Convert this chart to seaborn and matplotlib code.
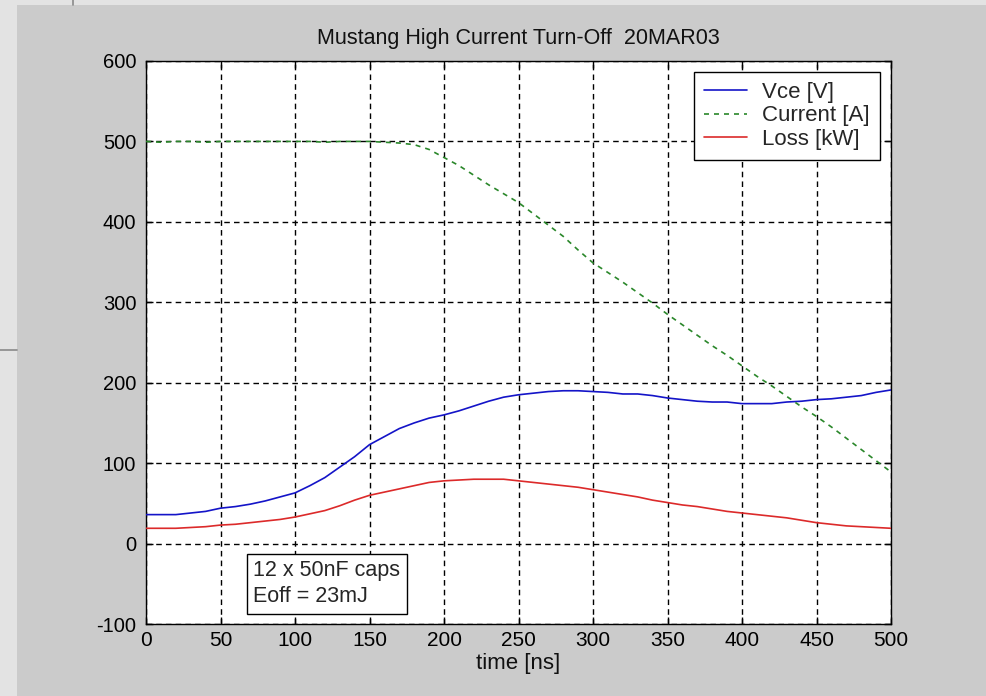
import matplotlib
matplotlib.use("Agg")
import matplotlib.pyplot as plt
import pandas as pd
import seaborn as sns
from matplotlib.patches import Rectangle
from matplotlib.lines import Line2D

# Sample times of the turn-off record (ns)
time_ns = [0, 10, 20, 30, 40, 50, 60, 70, 80, 90,
           100, 110, 120, 130, 140, 150, 160, 170, 180, 190,
           200, 210, 220, 230, 240, 250, 260, 270, 280, 290,
           300, 310, 320, 330, 340, 350, 360, 370, 380, 390,
           400, 410, 420, 430, 440, 450, 460, 470, 480, 490, 500]

# Collector-emitter voltage (V)
vce_v = [36, 36, 36, 38, 40, 44, 46, 49, 53, 58,
         63, 72, 82, 95, 108, 123, 133, 143, 150, 156,
         160, 165, 171, 177, 182, 185, 187, 189, 190, 190,
         189, 188, 186, 186, 184, 181, 179, 177, 176, 176,
         174, 174, 174, 176, 177, 179, 180, 182, 184, 188, 191]

# Collector current (A)
current_a = [500, 499, 500, 500, 499, 500, 500, 500, 500, 500,
             500, 500, 499, 500, 500, 500, 499, 498, 496, 490,
             480, 470, 458, 446, 435, 424, 410, 396, 382, 365,
             349, 337, 325, 312, 299, 285, 272, 259, 246, 234,
             221, 208, 196, 183, 170, 158, 145, 131, 117, 103, 89]

# Instantaneous switching loss (kW)
loss_kw = [19, 19, 19, 20, 21, 23, 24, 26, 28, 30,
           33, 37, 41, 47, 54, 60, 64, 68, 72, 76,
           78, 79, 80, 80, 80, 78, 76, 74, 72, 70,
           67, 64, 61, 58, 54, 51, 48, 46, 43, 40,
           38, 36, 34, 32, 29, 26, 24, 22, 21, 20, 19]

series_labels = ["Vce [V]", "Current [A]", "Loss [kW]"]
series_colors = ["#1414c8", "#2a872a", "#dc2a2a"]
x_ticks = [0, 50, 100, 150, 200, 250, 300, 350, 400, 450, 500]
y_ticks = [-100, 0, 100, 200, 300, 400, 500, 600]

sns.set_theme(style="white")
plt.rcParams["font.family"] = ["Liberation Sans", "DejaVu Sans"]
plt.rcParams["axes.unicode_minus"] = False

W, H = 986, 696
fig = plt.figure(figsize=(W / 100, H / 100), dpi=100)
fig.patch.set_facecolor("#e3e3e3")

# Figure window panel and the desktop edges around it
fig.add_artist(Rectangle((17 / W, 0), 1 - 17 / W, 1 - 5 / H,
                         transform=fig.transFigure, facecolor="#cbcbcb",
                         edgecolor="none", zorder=-10))
fig.add_artist(Line2D([73 / W, 73 / W], [1 - 5 / H, 1], transform=fig.transFigure,
                      color="#8a8a8a", lw=1.2))
fig.add_artist(Line2D([0, 17 / W], [1 - 350 / H, 1 - 350 / H], transform=fig.transFigure,
                      color="#8a8a8a", lw=1.2))

left, right, top, bottom = 146 / W, 891 / W, 1 - 61 / H, 1 - 624 / H
ax = fig.add_axes([left, bottom, right - left, top - bottom])
ax.set_facecolor("white")

df = pd.DataFrame({
    "time": time_ns * 3,
    "value": vce_v + current_a + loss_kw,
    "series": [series_labels[0]] * len(time_ns)
              + [series_labels[1]] * len(time_ns)
              + [series_labels[2]] * len(time_ns),
})

sns.lineplot(data=df, x="time", y="value", hue="series", style="series",
             hue_order=series_labels, style_order=series_labels,
             palette=dict(zip(series_labels, series_colors)),
             dashes={series_labels[0]: "", series_labels[1]: (3, 3),
                     series_labels[2]: ""},
             linewidth=1.2, ax=ax, legend=True, zorder=3)

ax.set_xlim(0, 500)
ax.set_ylim(-100, 600)
ax.set_xticks(x_ticks)
ax.set_yticks(y_ticks)
ax.grid(True, color="black", linestyle=(0, (4, 3)), linewidth=1.0)
ax.set_axisbelow(True)
ax.tick_params(direction="in", length=5, width=1, top=True, right=True,
               bottom=True, left=True, colors="black")
ax.tick_params(axis="y", labelsize=14.5, pad=7)
ax.tick_params(axis="x", labelsize=15, pad=5)
for sp in ax.spines.values():
    sp.set_color("black")
    sp.set_linewidth(1.0)

ax.set_title("Mustang High Current Turn-Off  20MAR03", fontsize=15.5, pad=12,
             color="#111111")
ax.set_xlabel("time [ns]", fontsize=16, labelpad=2, color="#111111")
ax.set_ylabel("")

leg = ax.legend(loc="upper right", bbox_to_anchor=(0.985, 0.98), borderaxespad=0,
                fontsize=16, frameon=True, fancybox=False, framealpha=1,
                edgecolor="black", handlelength=1.9, handletextpad=0.7,
                labelspacing=0.1, borderpad=0.45)
leg.get_frame().set_linewidth(1.0)

ax.text(72, -79, "12 x 50nF caps\nEoff = 23mJ", fontsize=15.5, ha="left", va="bottom",
        linespacing=1.3, zorder=5,
        bbox=dict(boxstyle="square,pad=0.3", facecolor="white", edgecolor="black", lw=1.0))

fig.savefig("out.png", dpi=100, facecolor=fig.get_facecolor())
